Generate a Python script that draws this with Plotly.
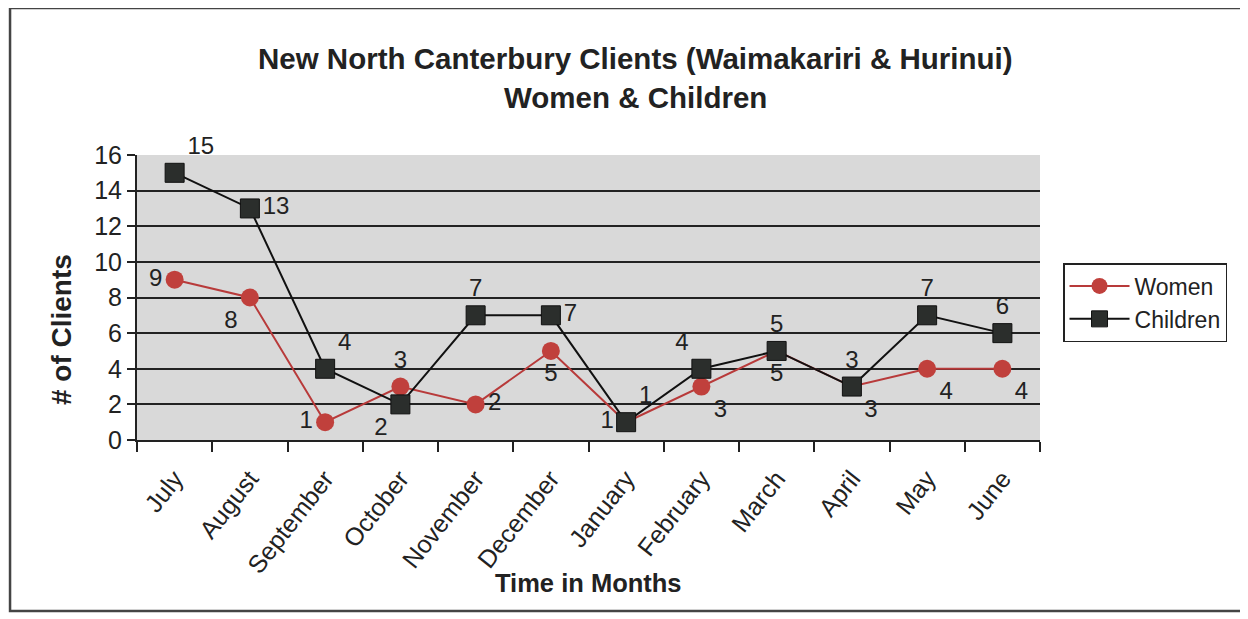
import plotly.graph_objects as go

months = ["July", "August", "September", "October", "November", "December",
          "January", "February", "March", "April", "May", "June"]
women = [9, 8, 1, 3, 2, 5, 1, 3, 5, 3, 4, 4]
children = [15, 13, 4, 2, 7, 7, 1, 4, 5, 3, 7, 6]
y_ticks = [0, 2, 4, 6, 8, 10, 12, 14, 16]

women_pos = ["middle left", "bottom left", "middle left", "top center", "middle right",
             "bottom center", "middle left", "bottom right", "bottom center",
             "bottom right", "bottom right", "bottom right"]
children_pos = ["top right", "middle right", "top right", "bottom left", "top center",
                "middle right", "top right", "top left", "top center", "top center",
                "top center", "top center"]

FONT = "Liberation Sans, Arial, sans-serif"
INK = "#222"

fig = go.Figure()
fig.add_trace(go.Scatter(
    x=months, y=women, name="Women", mode="lines+markers+text",
    line=dict(color="#b83a3a", width=2),
    marker=dict(symbol="circle", size=18, color="#c0403c"),
    text=[str(v) for v in women], textposition=women_pos,
    textfont=dict(size=24, color=INK, family=FONT), cliponaxis=False,
))
fig.add_trace(go.Scatter(
    x=months, y=children, name="Children", mode="lines+markers+text",
    line=dict(color="#111", width=2),
    marker=dict(symbol="square", size=19, color="#2b2e2c", line=dict(color="#111", width=1)),
    text=[str(v) for v in children], textposition=children_pos,
    textfont=dict(size=24, color=INK, family=FONT), cliponaxis=False,
))

fig.update_layout(
    width=1248, height=619,
    paper_bgcolor="white", plot_bgcolor="#d9d9d9",
    margin=dict(l=129, r=216, t=147, b=187),
    font=dict(family=FONT, color=INK),
    showlegend=True,
    legend=dict(x=1.0255, xanchor="left", y=0.621, yanchor="top",
                bordercolor=INK, borderwidth=1.5, bgcolor="white",
                font=dict(size=23, family=FONT, color=INK),
                itemwidth=60, tracegroupgap=0),
    xaxis=dict(type="category", showgrid=False, tickson="boundaries",
               ticks="outside", ticklen=10, tickcolor=INK, tickwidth=1.5,
               showline=True, linecolor=INK, linewidth=2,
               tickangle=-52, ticklabelstandoff=12,
               tickfont=dict(size=25, family=FONT, color=INK),
               range=[-0.5, 11.5]),
    yaxis=dict(range=[0, 16], tickvals=y_ticks, showgrid=True, gridcolor=INK, gridwidth=1.5,
               ticks="outside", ticklen=8, tickcolor=INK, tickwidth=1.5,
               showline=True, linecolor=INK, linewidth=2, zeroline=False,
               tickfont=dict(size=25, family=FONT, color=INK)),
    shapes=[dict(type="rect", xref="paper", yref="paper", x0=-0.1406, x1=1.227, y0=-0.600, y1=1.5158,
                 line=dict(color="#444", width=2.5))],
    annotations=[
        dict(text="<b>New North Canterbury Clients (Waimakariri & Hurinui)</b>",
             xref="paper", yref="paper", x=0.552, y=1.340,
             xanchor="center", yanchor="middle", showarrow=False,
             font=dict(size=29.5, family=FONT, color=INK)),
        dict(text="<b>Women & Children</b>",
             xref="paper", yref="paper", x=0.552, y=1.2035,
             xanchor="center", yanchor="middle", showarrow=False,
             font=dict(size=29.5, family=FONT, color=INK)),
        dict(text="<b>Time in Months</b>", xref="paper", yref="paper", x=0.5, y=-0.502,
             xanchor="center", yanchor="middle", showarrow=False,
             font=dict(size=25.5, family=FONT, color=INK)),
        dict(text="<b># of Clients</b>", xref="paper", yref="paper", x=-0.083, y=0.386,
             xanchor="center", yanchor="middle", showarrow=False, textangle=-90,
             font=dict(size=28, family=FONT, color=INK)),
    ],
)

fig.write_html("out.html")
